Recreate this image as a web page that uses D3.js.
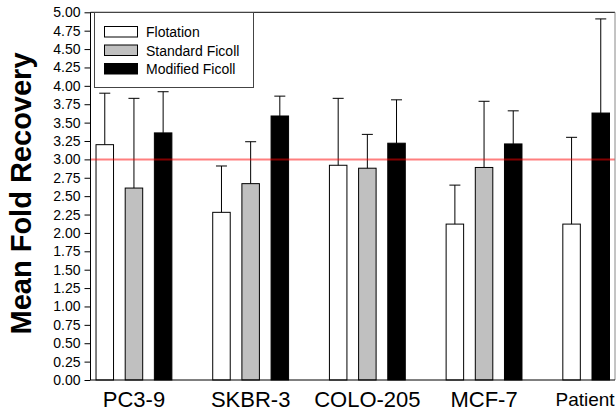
<!DOCTYPE html>
<html lang="en">
<head>
<meta charset="utf-8">
<title>Mean Fold Recovery</title>
<script src="https://cdn.jsdelivr.net/npm/d3@7"></script>
<style>
  body { margin: 0; background: #fff; }
  text { font-family: Arial, "Liberation Sans", sans-serif; }
</style>
</head>
<body>
<script>
// chart values
var categories = ["PC3-9", "SKBR-3", "COLO-205", "MCF-7", "Patient"];
var seriesNames = ["Flotation", "Standard Ficoll", "Modified Ficoll"];
var flotationMean = [3.20, 2.28, 2.92, 2.12, 2.12];
var flotationSD   = [0.70, 0.63, 0.91, 0.53, 1.18];
var standardMean  = [2.61, 2.67, 2.88, 2.89, null];
var standardSD    = [1.22, 0.57, 0.46, 0.90, null];
var modifiedMean  = [3.36, 3.59, 3.22, 3.21, 3.63];
var modifiedSD    = [0.56, 0.27, 0.59, 0.45, 1.28];
var yTicks = d3.range(0, 5.01, 0.25);
var refValue = 3.0;

var W = 616, H = 414;
var plotLeft = 90.5, plotRight = 615, plotTop = 12.3, plotBottom = 380;
var fills = ["#ffffff", "#c0c0c0", "#000000"];

var svg = d3.select("body").append("svg")
  .attr("width", W).attr("height", H);

var y = d3.scaleLinear().domain([0, 5]).range([plotBottom, plotTop]);

var step = 116.7;
var x0 = d3.scaleBand()
  .domain(categories)
  .range([75.6, 75.6 + step * categories.length]);
// bars are packed into slots: a missing series leaves no gap
var x1 = d3.scaleBand()
  .domain(d3.range(seriesNames.length))
  .range([0, x0.bandwidth()])
  .paddingInner(0.4)
  .paddingOuter(0.7);

var means = [flotationMean, standardMean, modifiedMean];
var sds = [flotationSD, standardSD, modifiedSD];

var rows = [];
categories.forEach(function(c, ci) {
  var slot = 0;
  seriesNames.forEach(function(s, si) {
    if (means[si][ci] == null) return;
    rows.push({cat: c, series: s, si: si, slot: slot++, mean: means[si][ci], sd: sds[si][ci]});
  });
});

function barX(d) { return x0(d.cat) + x1(d.slot); }
function barMid(d) { return barX(d) + x1.bandwidth() / 2; }

// bars
svg.selectAll(".bar")
  .data(rows)
  .enter()
  .append("rect")
  .attr("class", "bar")
  .attr("x", barX)
  .attr("y", function(d) { return y(d.mean); })
  .attr("width", x1.bandwidth())
  .attr("height", function(d) { return y(0) - y(d.mean); })
  .attr("fill", function(d) { return fills[d.si]; })
  .attr("stroke", "#000")
  .attr("stroke-width", 1);

// error bars (upper only)
var eb = svg.selectAll(".err")
  .data(rows)
  .enter()
  .append("g")
  .attr("class", "err")
  .attr("stroke", "#000")
  .attr("stroke-width", 1);
eb.append("line")
  .attr("x1", barMid)
  .attr("x2", barMid)
  .attr("y1", function(d) { return y(d.mean); })
  .attr("y2", function(d) { return y(d.mean + d.sd); });
eb.append("line")
  .attr("x1", function(d) { return barMid(d) - 5.5; })
  .attr("x2", function(d) { return barMid(d) + 5.5; })
  .attr("y1", function(d) { return y(d.mean + d.sd); })
  .attr("y2", function(d) { return y(d.mean + d.sd); });

// reference line at 3.00
svg.append("line")
  .attr("x1", plotLeft).attr("x2", plotRight)
  .attr("y1", y(refValue)).attr("y2", y(refValue))
  .attr("stroke", "#ff0000")
  .attr("stroke-opacity", 0.5)
  .attr("stroke-width", 2);

// frame: top and right
svg.append("line")
  .attr("x1", plotLeft).attr("x2", plotRight)
  .attr("y1", plotTop).attr("y2", plotTop)
  .attr("stroke", "#000");
svg.append("line")
  .attr("x1", plotRight).attr("x2", plotRight)
  .attr("y1", plotTop).attr("y2", plotBottom)
  .attr("stroke", "#888");

// y axis
var yAxis = d3.axisLeft(y)
  .tickValues(yTicks)
  .tickSize(6)
  .tickPadding(4)
  .tickFormat(d3.format(".2f"));
var gy = svg.append("g")
  .attr("transform", "translate(" + plotLeft + ",0)")
  .call(yAxis);
gy.select(".domain").attr("d", "M0," + plotTop + "V" + plotBottom);
gy.selectAll("text").attr("font-size", "14px").attr("fill", "#000");

// x axis
var xAxis = d3.axisBottom(x0).tickSize(0).tickPadding(11);
var gx = svg.append("g")
  .attr("transform", "translate(0," + plotBottom + ")")
  .call(xAxis);
gx.select(".domain").attr("d", "M" + plotLeft + ",0H" + plotRight);
gx.selectAll("text")
  .attr("font-size", "22px")
  .attr("fill", "#000")
  .each(function() {
    // keep labels inside the picture
    var t = d3.select(this);
    var b = this.getBBox();
    var tx = d3.select(this.parentNode).attr("transform");
    var cx = +tx.match(/translate\(([-\d.]+)/)[1];
    if (cx + b.x + b.width > W - 1) {
      t.attr("font-size", "19px").attr("dy", "0.8em");
      var b2 = this.getBBox();
      t.attr("x", (W - 1) - (cx + b2.width / 2));
    }
  });

// y title
svg.append("text")
  .attr("transform", "translate(31," + 193.5 + ") rotate(-90)")
  .attr("text-anchor", "middle")
  .attr("font-size", "29px")
  .attr("font-weight", "bold")
  .text("Mean Fold Recovery");

// legend
var legend = svg.append("g").attr("transform", "translate(94.5,12.5)");
legend.append("rect")
  .attr("width", 159).attr("height", 75)
  .attr("fill", "#fff")
  .attr("stroke", "#444");
var li = legend.selectAll(".li")
  .data(seriesNames)
  .enter()
  .append("g")
  .attr("transform", function(d, i) { return "translate(10," + (14 + i * 18.5) + ")"; });
li.append("rect")
  .attr("width", 33).attr("height", 10.5)
  .attr("fill", function(d, i) { return fills[i]; })
  .attr("stroke", "#000");
li.append("text")
  .attr("x", 41.5).attr("y", 10.5)
  .attr("font-size", "14px")
  .text(function(d) { return d; });
</script>
</body>
</html>
